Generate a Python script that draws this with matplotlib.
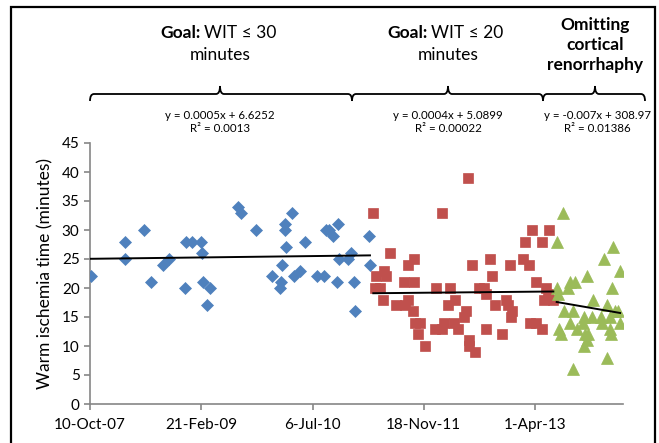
"""Warm ischemia time per case, three technique periods, with linear trend lines."""
import matplotlib
matplotlib.use("Agg")
import matplotlib.pyplot as plt
import matplotlib.dates as mdates
from matplotlib.path import Path
from matplotlib.patches import PathPatch, Rectangle
import numpy as np
import pandas as pd

START = pd.Timestamp("2007-10-10")

# days after 10-Oct-07, WIT in minutes
blue_days = [4, 157, 157, 244, 274, 327, 355, 426, 431, 457, 497, 502, 509, 539, 524,
             664, 679, 746, 818, 858, 855, 863, 876, 876, 881, 909, 915, 944, 966,
             1019, 1052, 1061, 1075, 1093, 1113, 1111, 1119, 1161, 1173, 1186, 1191,
             1252, 1258]
blue_wit = [22, 28, 25, 30, 21, 24, 25, 20, 28, 28, 28, 26, 21, 20, 17,
            34, 33, 30, 22, 21, 20, 24, 31, 30, 27, 33, 22, 23, 28,
            22, 22, 30, 30, 29, 31, 21, 25, 25, 26, 21, 16,
            29, 24]

red_days = [1273, 1281, 1303, 1285, 1329, 1323, 1348, 1315, 1374, 1412, 1416, 1428,
            1430, 1453, 1457, 1457, 1459, 1483, 1475, 1505, 1550, 1554, 1583, 1583,
            1592, 1610, 1618, 1637, 1640, 1655, 1681, 1688, 1700, 1718, 1703, 1703,
            1730, 1750, 1772, 1778, 1778, 1798, 1805, 1820, 1853, 1870, 1880, 1887,
            1894, 1891, 1947, 1955, 1974, 1977, 1988, 2003, 2004, 2030, 2030, 2048,
            2040, 2057, 2064, 2082]
red_wit = [33, 20, 20, 22, 22, 23, 26, 18, 17, 21, 17, 24,
           18, 16, 25, 21, 14, 14, 12, 10, 13, 20, 33, 13,
           14, 17, 20, 14, 18, 13, 15, 16, 39, 24, 11, 10,
           9, 20, 20, 19, 13, 25, 22, 17, 12, 18, 17, 24,
           16, 15, 25, 28, 24, 14, 30, 21, 14, 28, 13, 20,
           18, 19, 30, 18]

green_days = [2127, 2100, 2349, 2311, 2382, 2232, 2180, 2157, 2147, 2097, 2105, 2347,
              2262, 2323, 2132, 2172, 2359, 2374, 2221, 2255, 2296, 2337, 2157, 2217,
              2300, 2382, 2187, 2108, 2239, 2225, 2117, 2337, 2340, 2221, 2322, 2172,
              2232]
green_wit = [33, 28, 27, 25, 23, 22, 21, 21, 20, 20, 19, 20,
             18, 17, 16, 16, 16, 16, 15, 15, 15, 15, 14, 14,
             14, 14, 13, 13, 12, 12, 12, 13, 12, 10, 8, 6,
             11]

tick_days = [0, 500, 1000, 1500, 2000]
x_max_days = 2395

goal_limits = ["WIT ≤ 30", "WIT ≤ 20"]
third_header = "Omitting\ncortical\nrenorrhaphy"
equations = ["y = 0.0005x + 6.6252\nR² = 0.0013",
             "y = 0.0004x + 5.0899\nR² = 0.00022",
             "y = -0.007x + 308.97\nR² = 0.01386"]

BLUE, RED, GREEN = "#4F81BD", "#C0504D", "#9BBB59"
GREY = "#868686"

plt.rcParams["font.family"] = ["Lato", "DejaVu Sans"]

W, H = 659, 443
fig = plt.figure(figsize=(W / 100, H / 100), dpi=100)
ax = fig.add_axes([90 / W, 1 - 404 / H, (623 - 90) / W, (404 - 143) / H])


def to_dates(days):
    return mdates.date2num(START + pd.to_timedelta(days, unit="D"))


series = [(blue_days, blue_wit, BLUE, "D", 6.5),
          (red_days, red_wit, RED, "s", 7),
          (green_days, green_wit, GREEN, "^", 8)]
for days, wit, col, mk, ms in series:
    x = to_dates(days)
    ax.plot(x, wit, mk, color=col, ms=ms, mec=col, mew=0.5, ls="none", zorder=3)
    k, b = np.polyfit(x, wit, 1)
    xx = np.array([x.min(), x.max()])
    ax.plot(xx, k * xx + b, color="black", lw=1.4, zorder=4)

ax.set_xlim(to_dates([0])[0], to_dates([x_max_days])[0])
ax.set_ylim(0, 45)
ax.set_yticks(range(0, 46, 5))
ax.set_xticks(to_dates(tick_days))
ax.xaxis.set_major_formatter(mdates.DateFormatter("%-d-%b-%y"))
for s in ("top", "right"):
    ax.spines[s].set_visible(False)
for s in ("left", "bottom"):
    ax.spines[s].set_color(GREY)
    ax.spines[s].set_linewidth(1.2)
ax.tick_params(colors=GREY, labelcolor="black", labelsize=11, length=4, width=1.2)
ax.tick_params(axis="x", pad=6)
ax.set_ylabel("Warm ischemia time (minutes)", fontsize=12.5, labelpad=6)

# header braces (figure pixel coords, y from top)
def brace(x1, x2, xc, ymid=94, ytip=86, ylow=101, r=4):
    pts = [(x1, ylow), (x1, ymid), (x1 + r, ymid),
           (xc - r, ymid), (xc, ymid), (xc, ytip),
           (xc, ymid), (xc + r, ymid),
           (x2 - r, ymid), (x2, ymid), (x2, ylow)]
    codes = [Path.MOVETO, Path.CURVE3, Path.CURVE3,
             Path.LINETO, Path.CURVE3, Path.CURVE3,
             Path.CURVE3, Path.CURVE3,
             Path.LINETO, Path.CURVE3, Path.CURVE3]
    pts = [(px / W, 1 - py / H) for px, py in pts]
    fig.add_artist(PathPatch(Path(pts, codes), fill=False, lw=1.3, ec="black",
                             transform=fig.transFigure))

brace(90, 352, 220)
brace(352, 543, 448)
brace(543, 645, 595)

def fx(px):
    return px / W

def fy(py):
    return 1 - py / H

for split, xc, lim in [(201, 220, goal_limits[0]), (428, 448, goal_limits[1])]:
    fig.text(fx(split), fy(33), "Goal:", ha="right", va="center", fontsize=12.5,
             fontweight="bold")
    fig.text(fx(split + 3), fy(33), lim, ha="left", va="center", fontsize=12.5)
    fig.text(fx(xc), fy(55), "minutes", ha="center", va="center", fontsize=12.5)
fig.text(fx(595), fy(45), third_header, ha="center", va="center", fontsize=12.5,
         fontweight="bold", linespacing=1.3)
for xc, eq in zip([220, 448, 597], equations):
    fig.text(fx(xc), fy(122), eq, ha="center", va="center", fontsize=8.3,
             linespacing=1.15)

fig.add_artist(Rectangle((fx(11), fy(447)), (655 - 11) / W, (447 - 7) / H,
                         transform=fig.transFigure, fill=False, ec="black", lw=1.6))

fig.savefig("out.png", dpi=100)
